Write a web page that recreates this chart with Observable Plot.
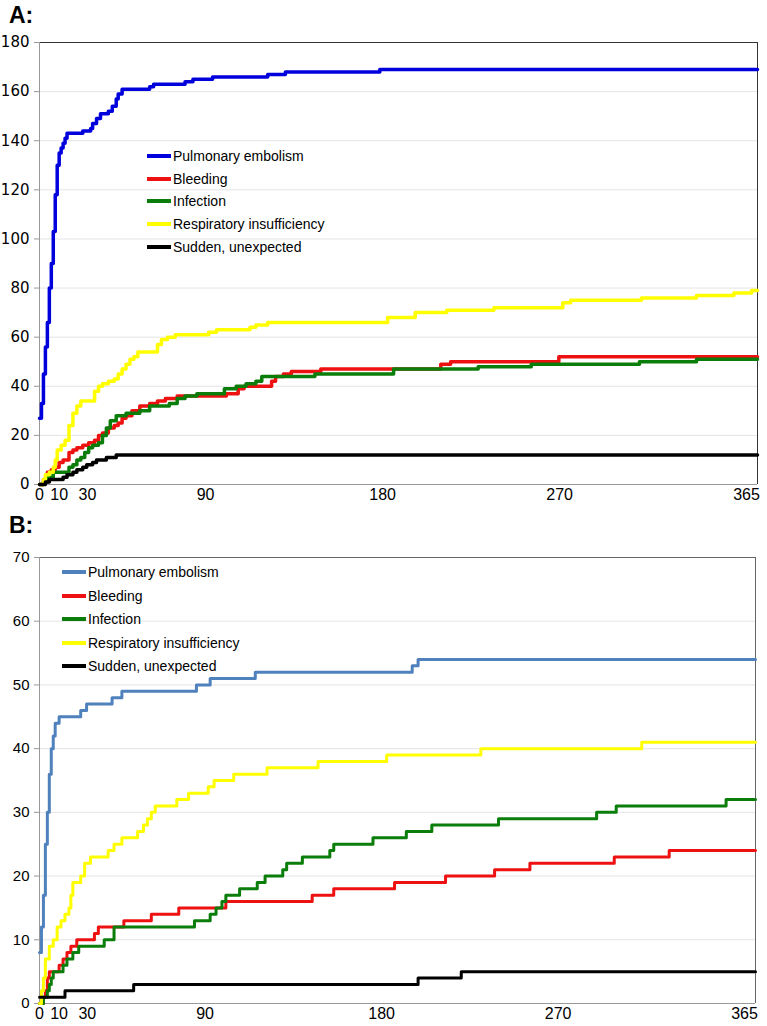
<!DOCTYPE html>
<html>
<head>
<meta charset="utf-8">
<script src="https://cdn.jsdelivr.net/npm/d3@7"></script>
<script src="https://cdn.jsdelivr.net/npm/@observablehq/plot@0.6"></script>
<style>
  body { margin: 0; background: #fff; font-family: "Liberation Sans", Arial, sans-serif; }
  #page { position: relative; width: 767px; height: 1026px; overflow: hidden; }
  .title { position: absolute; left: 9px; font: bold 23px "Liberation Sans", Arial, sans-serif; }
  .chart { position: absolute; left: 0; }
  .legend { position: absolute; font-size: 14px; color: #000; }
  .legend div { height: 18px; line-height: 18px; display: flex; align-items: center; white-space: nowrap; }
  .legend span.sw { display: inline-block; width: 24px; height: 4px; margin-right: 2px; }
</style>
</head>
<body>
<div id="page">
  <div class="title" style="top:2px">A:</div>
  <div id="chartA" class="chart" style="top:34px"></div>
  <div id="legendA" class="legend" style="left:147px; top:147px"></div>
  <div class="title" style="top:512px">B:</div>
  <div id="chartB" class="chart" style="top:545px"></div>
  <div id="legendB" class="legend" style="left:62px; top:563px"></div>
</div>
<script>
const series = ["Pulmonary embolism", "Bleeding", "Infection", "Respiratory insufficiency", "Sudden, unexpected"];
const colorsA = ["#0000dd", "#ee1111", "#0a7d0a", "#ffff00", "#000000"];
const colorsB = ["#4f81bd", "#ee1111", "#0a7d0a", "#ffff00", "#000000"];
const xTicksNear = [0, 10];
const xTicksFar = [30, 90, 180, 270, 365];
const yTicksA = [0, 20, 40, 60, 80, 100, 120, 140, 160, 180];
const yTicksB = [0, 10, 20, 30, 40, 50, 60, 70];

// panel A: cumulative deaths by day, [day, count]
const pulmonaryA = [[0,27],[1,33],[2,45],[3,56],[4,66],[5,80],[6,90],[7,103],[8,118],[9,130],[10,135],[11,137],[12,139],[13,141],[14,143],[22,144],[26,145],[27,147],[29,149],[31,151],[35,152],[37,154],[39,157],[40,159],[42,161],[56,162],[58,163],[74,164],[78,165],[88,166],[116,167],[125,168],[173,169],[365,169]];
const bleedingA = [[0,0],[2,2],[4,5],[6,6],[8,7],[10,9],[12,10],[15,13],[17,14],[19,15],[22,16],[25,17],[28,18],[30,20],[32,21],[35,23],[38,24],[40,25],[42,27],[44,28],[47,30],[51,32],[56,33],[60,34],[64,35],[70,36],[95,37],[101,39],[104,40],[118,42],[120,44],[124,45],[128,46],[143,47],[204,49],[209,50],[264,52],[365,52]];
const infectionA = [[0,0],[2,1],[4,3],[7,5],[15,7],[17,8],[19,10],[21,11],[23,13],[25,15],[27,16],[30,17],[32,20],[34,23],[36,26],[39,28],[44,29],[51,30],[56,32],[66,33],[70,35],[74,36],[80,37],[94,39],[100,40],[105,41],[110,42],[113,44],[140,45],[180,47],[223,48],[250,49],[305,50],[334,51],[365,51]];
const respiratoryA = [[0,0],[2,2],[3,4],[5,5],[7,7],[8,10],[9,14],[11,16],[13,18],[15,24],[17,29],[19,32],[21,34],[28,38],[30,40],[32,41],[35,42],[38,43],[40,45],[42,47],[44,49],[46,51],[48,52],[50,54],[60,57],[62,59],[65,60],[69,61],[86,62],[90,63],[107,64],[110,65],[116,66],[177,68],[191,70],[207,71],[231,72],[266,74],[270,75],[306,76],[334,77],[353,78],[362,79],[365,79]];
const suddenA = [[0,0],[3,1],[5,2],[12,3],[14,4],[17,5],[19,6],[22,7],[24,8],[27,9],[29,10],[34,11],[39,12],[365,12]];

// panel B
const pulmonaryB = [[0,8],[1,12],[2,17],[3,25],[4,30],[5,36],[6,40],[7,42],[8,44],[10,45],[21,46],[24,47],[37,48],[42,49],[80,50],[87,51],[110,52],[190,53],[193,54],[365,54]];
const bleedingB = [[0,0],[2,1],[3,2],[4,4],[5,5],[10,6],[12,7],[14,8],[16,9],[19,10],[28,11],[30,12],[43,13],[57,14],[71,15],[95,16],[139,17],[150,18],[181,19],[207,20],[232,21],[250,22],[293,23],[321,24],[365,24]];
const infectionB = [[0,0],[2,1],[4,2],[5,3],[6,4],[7,5],[12,6],[14,7],[17,8],[20,9],[33,10],[38,12],[79,13],[87,14],[90,15],[93,16],[95,17],[102,18],[111,19],[115,20],[124,21],[126,22],[134,23],[148,24],[150,25],[170,26],[187,27],[200,28],[234,29],[284,30],[294,31],[350,32],[365,32]];
const respiratoryB = [[0,0],[1,2],[2,4],[3,7],[5,9],[7,10],[9,12],[11,13],[13,14],[15,15],[16,17],[17,19],[21,20],[23,22],[26,23],[35,24],[38,25],[42,26],[50,27],[53,28],[55,29],[57,30],[59,31],[70,32],[76,33],[86,34],[89,35],[99,36],[116,37],[142,38],[177,39],[225,40],[307,41],[365,41]];
const suddenB = [[0,1],[13,2],[48,3],[193,4],[215,5],[365,5]];

function table(lists) {
  return lists.flatMap((pts, i) => pts.map(([day, n]) => ({series: series[i], day, n})));
}

function chart(rows, colors, yTicks, yMax, opts) {
  return Plot.plot({
    width: 767,
    height: opts.height,
    marginTop: opts.marginTop,
    marginBottom: opts.marginBottom,
    marginLeft: 39,
    marginRight: opts.marginRight,
    style: {fontFamily: "Liberation Sans, Arial, sans-serif", fontSize: "15px", color: "#000", background: "white"},
    x: {domain: [0, 365]},
    y: {domain: [0, yMax]},
    color: {domain: series, range: colors},
    marks: [
      Plot.gridY({ticks: yTicks, stroke: "#e4e4e4", strokeOpacity: 1}),
      Plot.ruleY([yMax], {stroke: opts.frame}),
      Plot.ruleX([365], {stroke: opts.frame}),
      Plot.ruleX([0], {stroke: "#999"}),
      Plot.ruleY([0], {stroke: "#999"}),
      Plot.axisY({ticks: yTicks, tickSize: 5, tickPadding: 5, stroke: "#999", label: null,
        fontFamily: opts.yFont, fontSize: 15}),
      Plot.axisX({ticks: xTicksNear, tickSize: 0, tickPadding: 4, label: null, fontSize: 16}),
      Plot.axisX({ticks: xTicksFar, tickSize: 0, tickPadding: 4, label: null, fontSize: 16, dx: -11}),
      Plot.line(rows, {x: "day", y: "n", z: "series", stroke: "series", curve: "step-after",
        strokeWidth: opts.lineWidth})
    ]
  });
}

function legend(id, colors, rowGap) {
  const box = d3.select(id);
  series.forEach((s, i) => {
    const row = box.append("div").style("margin-bottom", (rowGap - 18) + "px");
    row.append("span").attr("class", "sw").style("background", colors[i]);
    row.append("span").text(s);
  });
}

const rowsA = table([pulmonaryA, bleedingA, infectionA, respiratoryA, suddenA]);
const rowsB = table([pulmonaryB, bleedingB, infectionB, respiratoryB, suddenB]);

d3.select("#chartA").append(() => chart(rowsA, colorsA, yTicksA, 180,
  {height: 472, marginTop: 8, marginBottom: 22, marginRight: 10, frame: "#333", lineWidth: 3.5,
   yFont: "DejaVu Sans, sans-serif"}));
d3.select("#chartB").append(() => chart(rowsB, colorsB, yTicksB, 70,
  {height: 481, marginTop: 12, marginBottom: 23, marginRight: 12, frame: "#666", lineWidth: 3,
   yFont: "Liberation Sans, Arial, sans-serif"}));

legend("#legendA", colorsA, 22.7);
legend("#legendB", colorsB, 23.5);
</script>
</body>
</html>
